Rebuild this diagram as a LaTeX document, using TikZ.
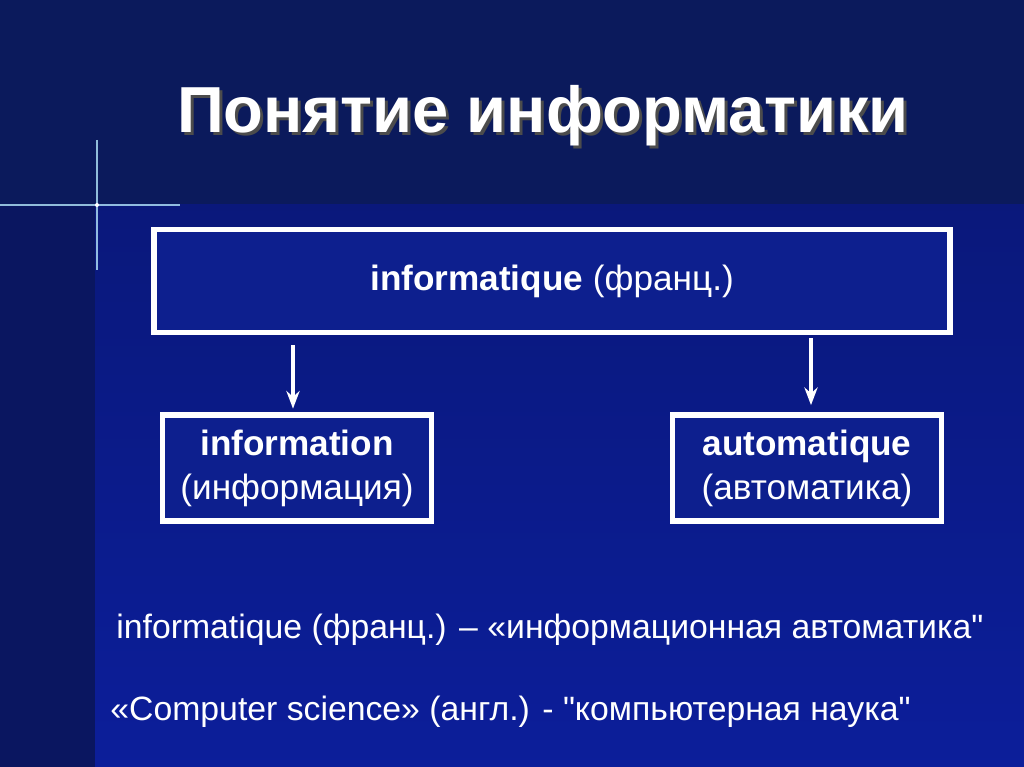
\documentclass[tikz,border=0pt]{standalone}
\usepackage{fontspec}
\setmainfont{Liberation Sans}[Ligatures=TeXOff]
\usetikzlibrary{arrows.meta}
\definecolor{bgtop}{HTML}{0B1A5C}
\definecolor{bgleft}{HTML}{0A1660}
\definecolor{bgmain}{HTML}{0C1E9A}
\definecolor{boxfill}{HTML}{0D1F8E}
\newcommand{\sq}{\char"22\relax}
\tikzset{
  termbox/.style={draw=white, line width=1.6pt, fill=boxfill, text=white, align=center, inner sep=0pt},
  pointer/.style={draw=white, line width=1pt, -{Stealth[length=5pt]}}
}
\begin{document}
\begin{tikzpicture}[x=0.01cm,y=-0.01cm]
\useasboundingbox (0,0) rectangle (1024,767);
% background
\fill[bgtop] (0,0) rectangle (1024,767);
\shade[top color=bgmain!80!black, bottom color=bgmain] (95,205) rectangle (1024,767);
\fill[bgleft] (0,205) rectangle (95,767);
% sparkle
\draw[white!70!cyan, line width=0.4pt, opacity=0.8] (0,205) -- (180,205);
\draw[white!70!cyan, line width=0.4pt, opacity=0.8] (97,140) -- (97,270);
\fill[white] (97,205) circle (2);
% title
\node[text=black!70, font=\bfseries\fontsize{18.5}{22}\selectfont] at (546,119) {Понятие информатики};
\node (title) [text=white, font=\bfseries\fontsize{18.5}{22}\selectfont] at (543,116) {Понятие информатики};
% boxes
\node (root) [termbox, minimum width=7.95cm, minimum height=1.03cm, font=\fontsize{10}{11}\selectfont] at (552,281) {\textbf{informatique} (франц.)};
\node (info) [termbox, minimum width=2.69cm, minimum height=1.06cm, font=\fontsize{10}{12.5}\selectfont] at (297,468) {\textbf{information}\\(информация)};
\node (auto) [termbox, minimum width=2.69cm, minimum height=1.06cm, font=\fontsize{10}{12.5}\selectfont] at (807,468) {\textbf{automatique}\\(автоматика)};
% arrows
\coordinate (a1) at (293,345);
\coordinate (a2) at (811,338);
\draw[pointer] (a1) -- ([yshift=1pt]a1 |- info.north);
\draw[pointer] (a2) -- ([yshift=2pt]a2 |- auto.north);
% notes
\node (note1) [text=white, anchor=west, font=\fontsize{9.6}{12}\selectfont] at (104,630) {informatique (франц.) – «информационная автоматика\sq};
\node (note2) [text=white, anchor=west, font=\fontsize{9.6}{12}\selectfont] at (98,712) {«Computer science» (англ.) - \sq компьютерная наука\sq};
\end{tikzpicture}
\end{document}
